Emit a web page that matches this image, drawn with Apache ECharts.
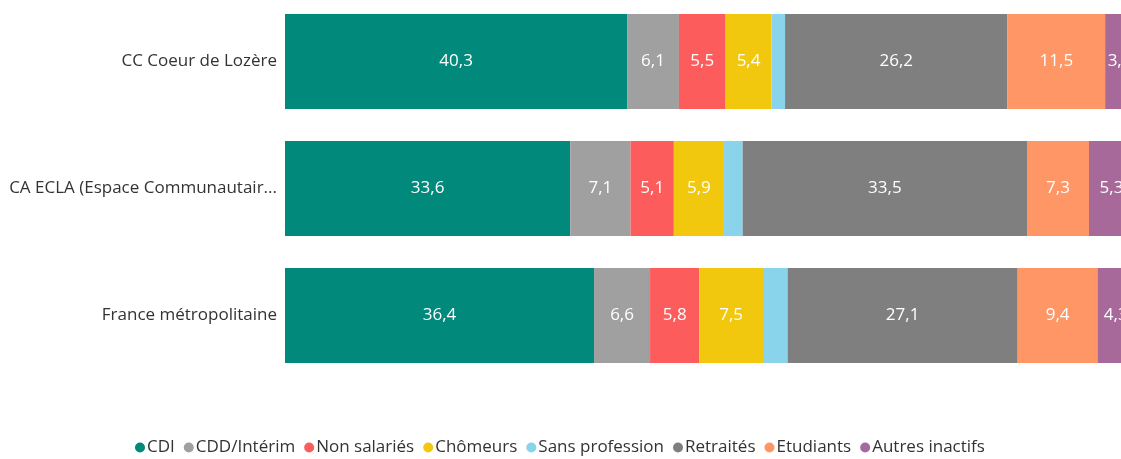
<!DOCTYPE html>
<html>
<head>
<meta charset="utf-8">
<script src="https://cdn.jsdelivr.net/npm/echarts@6/dist/echarts.min.js"></script>
<style>
  html, body { margin: 0; padding: 0; background: #fff; overflow: hidden; }
  #chart { position: relative; top: -2px; width: 1134px; height: 461px; }
</style>
</head>
<body>
<div id="chart"></div>
<script>
const categories = ['CC Coeur de Lozère', 'CA ECLA (Espace Communautair...', 'France métropolitaine']
const seriesNames = ['CDI', 'CDD/Intérim', 'Non salariés', 'Chômeurs', 'Sans profession', 'Retraités', 'Etudiants', 'Autres inactifs']
const cdi = [40.3, 33.6, 36.4]
const cdd = [6.1, 7.1, 6.6]
const nonSalaries = [5.5, 5.1, 5.8]
const chomeurs = [5.4, 5.9, 7.5]
const sansProfession = [1.6, 2.2, 2.9]
const retraites = [26.2, 33.5, 27.1]
const etudiants = [11.5, 7.3, 9.4]
const autres = [3.4, 5.3, 4.3]

const values = [cdi, cdd, nonSalaries, chomeurs, sansProfession, retraites, etudiants, autres]
const colors = ['#01897b', '#a0a0a0', '#fd5c5c', '#f2c80f', '#8ad4eb', '#7f7f7f', '#fe9666', '#a66999']
const font = "'Open Sans', sans-serif"

// the chart is wider than the window: the right end of the bars gets cut off like in the original
let myChart = echarts.init(document.getElementById('chart'))

const option = {
  animation: false,
  color: colors,
  grid: {
    top: 0,
    bottom: 80,
    left: 285,
    right: 0,
    containLabel: false,
  },
  legend: {
    bottom: -2,
    left: 130,
    icon: 'circle',
    itemWidth: 10,
    itemHeight: 10,
    itemGap: 9,
    textStyle: { fontFamily: font, fontSize: 17, color: '#333', padding: [0, 0, 0, -3] },
    data: seriesNames,
  },
  xAxis: {
    type: 'value',
    min: 0,
    max: 100,
    show: false,
  },
  yAxis: {
    type: 'category',
    data: categories,
    inverse: true,
    axisLine: { show: false },
    axisTick: { show: false },
    axisLabel: {
      margin: 8,
      fontFamily: font,
      fontSize: 17,
      color: '#333',
    },
  },
  series: seriesNames.map((name, i) => ({
    name: name,
    type: 'bar',
    stack: 'total',
    barWidth: 95,
    data: values[i],
    label: {
      show: name !== 'Sans profession',
      position: 'inside',
      color: '#fff',
      fontFamily: font,
      fontSize: 17,
      formatter: (p) => String(p.value).replace('.', ','),
    },
  })),
}

myChart.setOption(option)
</script>
</body>
</html>
